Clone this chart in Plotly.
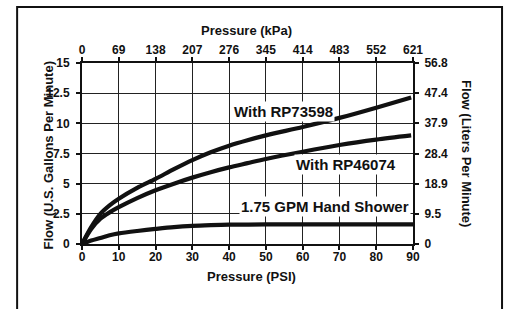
import plotly.graph_objects as go

# Pressure (PSI) sample points and flows (GPM)
psi_rp73598 = [0, 2.5, 5, 7.5, 10, 15, 20, 25, 30, 35, 40, 45, 50, 60, 70, 80, 89.5]
gpm_rp73598 = [0, 1.4, 2.5, 3.2, 3.75, 4.65, 5.4, 6.2, 6.95, 7.6, 8.15, 8.6, 9.0, 9.7, 10.45, 11.3, 12.15]

psi_rp46074 = [0, 2.5, 5, 7.5, 10, 15, 20, 25, 30, 35, 40, 45, 50, 60, 70, 80, 89.5]
gpm_rp46074 = [0, 1.25, 2.1, 2.62, 3.05, 3.8, 4.45, 5.0, 5.5, 5.95, 6.35, 6.7, 7.05, 7.65, 8.2, 8.65, 9.0]

psi_hand = [0, 2.5, 5, 7.5, 10, 15, 20, 25, 30, 35, 40, 50, 60, 70, 80, 90]
gpm_hand = [0, 0.28, 0.5, 0.72, 0.88, 1.08, 1.25, 1.4, 1.5, 1.56, 1.6, 1.62, 1.63, 1.63, 1.63, 1.63]

series_names = ["With RP73598", "With RP46074", "1.75 GPM Hand Shower"]

psi_ticks = [0, 10, 20, 30, 40, 50, 60, 70, 80, 90]
kpa_ticks = [0, 69, 138, 207, 276, 345, 414, 483, 552, 621]
gpm_ticks = [0, 2.5, 5, 7.5, 10, 12.5, 15]
gpm_ticklabels = ["0", "2.5", "5", "7.5", "10", "12.5", "15"]
lpm_ticks = [0, 9.5, 18.9, 28.4, 37.9, 47.4, 56.8]
lpm_ticklabels = ["0", "9.5", "18.9", "28.4", "37.9", "47.4", "56.8"]

# label anchor positions (data coords)
label_x = [54.8, 71.8, 66.1]
label_y = [11.0, 6.6, 3.1]

FONT = "Liberation Sans, Arial, Helvetica, sans-serif"

fig = go.Figure()
for xs, ys in [(psi_rp73598, gpm_rp73598), (psi_rp46074, gpm_rp46074), (psi_hand, gpm_hand)]:
    fig.add_trace(go.Scatter(x=xs, y=ys, mode="lines",
                             line=dict(color="#111111", width=4.2, shape="spline", smoothing=0.8),
                             showlegend=False, hoverinfo="skip", cliponaxis=False))

# invisible traces to activate secondary axes
fig.add_trace(go.Scatter(x=[0], y=[0], xaxis="x2", yaxis="y", mode="markers",
                         marker=dict(opacity=0), showlegend=False, hoverinfo="skip"))
fig.add_trace(go.Scatter(x=[0], y=[0], xaxis="x", yaxis="y2", mode="markers",
                         marker=dict(opacity=0), showlegend=False, hoverinfo="skip"))

tickfont = dict(family=FONT, size=12, color="#111111", weight="bold")
common = dict(showline=True, linecolor="#111111", linewidth=2, ticks="outside",
              ticklen=4, tickwidth=1.5, tickcolor="#111111", tickfont=tickfont, zeroline=False)

fig.update_layout(
    width=505, height=309,
    margin=dict(l=82, r=92, t=63, b=65),
    paper_bgcolor="white", plot_bgcolor="white",
    xaxis=dict(range=[0, 90], tickvals=psi_ticks, showgrid=True, gridcolor="#222222",
               gridwidth=1.2, ticklabelstandoff=-3, **common),
    xaxis2=dict(range=[0, 621], tickvals=kpa_ticks, overlaying="x", side="top",
                showgrid=False, ticklabelstandoff=-2, **common),
    yaxis=dict(range=[0, 15], tickvals=gpm_ticks, ticktext=gpm_ticklabels, showgrid=True,
               gridcolor="#222222", gridwidth=1.2, ticklabelstandoff=4, **common),
    yaxis2=dict(range=[0, 56.8], tickvals=lpm_ticks, ticktext=lpm_ticklabels, overlaying="y",
                side="right", showgrid=False, ticklabelstandoff=3, **common),
)

titlefont = dict(family=FONT, size=13, color="#111111", weight="bold")
fig.add_annotation(text="Pressure (kPa)", xref="paper", yref="paper", x=0.498, y=1.177,
                   xanchor="center", yanchor="middle", showarrow=False, font=titlefont)
fig.add_annotation(text="Pressure (PSI)", xref="paper", yref="paper", x=0.511, y=-0.182,
                   xanchor="center", yanchor="middle", showarrow=False, font=titlefont)
fig.add_annotation(text="Flow (U.S. Gallons Per Minute)", xref="paper", yref="paper",
                   x=-0.101, y=0.492, xanchor="center", yanchor="middle", textangle=-90,
                   showarrow=False, font=titlefont)
fig.add_annotation(text="Flow (Liters Per Minute)", xref="paper", yref="paper",
                   x=1.163, y=0.497, xanchor="center", yanchor="middle", textangle=90,
                   showarrow=False, font=titlefont)

labelfont = dict(family=FONT, size=15, color="#111111", weight="bold")
for name, lx, ly in zip(series_names, label_x, label_y):
    fig.add_annotation(text=name, x=lx, y=ly, xref="x", yref="y", showarrow=False,
                       xanchor="center", yanchor="middle",
                       font=labelfont, bgcolor="white", borderpad=1)

fig.add_shape(type="rect", xref="paper", yref="paper", x0=-0.196, x1=1.269, y0=-0.6, y1=1.309,
              line=dict(color="#111111", width=2), layer="below")

fig.write_html("out.html", config={"displayModeBar": False},
               post_script="document.body.style.margin='0px';")
